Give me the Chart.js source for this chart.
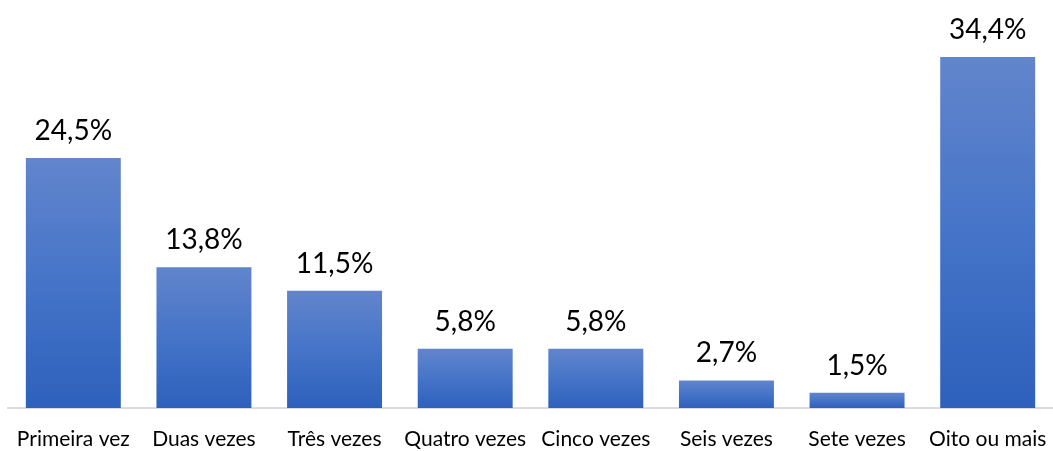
<!DOCTYPE html>
<html>
<head>
<meta charset="utf-8">
<script src="https://cdn.jsdelivr.net/npm/chart.js@4.4.1/dist/chart.umd.min.js"></script>
<style>
  html, body { margin: 0; padding: 0; background: #fff; }
  #wrap { width: 1053px; height: 451px; }
</style>
</head>
<body>
<div id="wrap"><canvas id="grafico" width="1053" height="451"></canvas></div>
<script>
// --- dados ---
const categorias = ['Primeira vez', 'Duas vezes', 'Três vezes', 'Quatro vezes', 'Cinco vezes', 'Seis vezes', 'Sete vezes', 'Oito ou mais'];
const percentuais = [24.5, 13.8, 11.5, 5.8, 5.8, 2.7, 1.5, 34.4];
const rotulos = ['24,5%', '13,8%', '11,5%', '5,8%', '5,8%', '2,7%', '1,5%', '34,4%'];

const fonte = 'Lato, "Open Sans", sans-serif';

// gradiente por barra (claro em cima, escuro embaixo)
function corBarra(context) {
    const chart = context.chart;
    const yScale = chart.scales.y;
    if (!yScale || context.type !== 'data') return '#4472c4';
    const topo = yScale.getPixelForValue(context.raw);
    const base = yScale.getPixelForValue(0);
    if (!isFinite(topo) || !isFinite(base) || topo === base) return '#4472c4';
    const g = chart.ctx.createLinearGradient(0, topo, 0, base);
    g.addColorStop(0, '#6285cc');
    g.addColorStop(0.5, '#4574c8');
    g.addColorStop(1, '#2e61bc');
    return g;
}

// rótulos de valor acima das barras
const rotulosPlugin = {
    id: 'rotulosValor',
    afterDatasetsDraw(chart) {
        const ctx = chart.ctx;
        const meta = chart.getDatasetMeta(0);
        ctx.save();
        ctx.font = '28px ' + fonte;
        ctx.fillStyle = '#000';
        ctx.textAlign = 'center';
        ctx.textBaseline = 'alphabetic';
        meta.data.forEach((barra, i) => {
            ctx.fillText(rotulos[i], barra.x, barra.y - 18);
        });
        ctx.restore();
    }
};

new Chart(document.getElementById('grafico'), {
    type: 'bar',
    data: {
        labels: categorias,
        datasets: [{
            data: percentuais,
            backgroundColor: corBarra,
            borderWidth: 0,
            categoryPercentage: 1,
            barPercentage: 0.727
        }]
    },
    options: {
        responsive: false,
        animation: false,
        events: [],
        layout: { padding: { left: 8, right: 0, top: 0, bottom: 0 } },
        plugins: {
            legend: { display: false },
            tooltip: { enabled: false }
        },
        scales: {
            y: {
                display: false,
                min: 0,
                max: 40
            },
            x: {
                afterFit(scale) {
                    scale.height = 43;
                    scale.paddingLeft = 0;
                    scale.paddingRight = 0;
                },
                grid: { display: false, drawTicks: false },
                border: { display: true, color: '#d9dde3', width: 2 },
                ticks: {
                    color: '#000',
                    font: { family: fonte, size: 21 },
                    padding: 19,
                    maxRotation: 0,
                    autoSkip: false
                }
            }
        }
    },
    plugins: [rotulosPlugin]
});
</script>
</body>
</html>
